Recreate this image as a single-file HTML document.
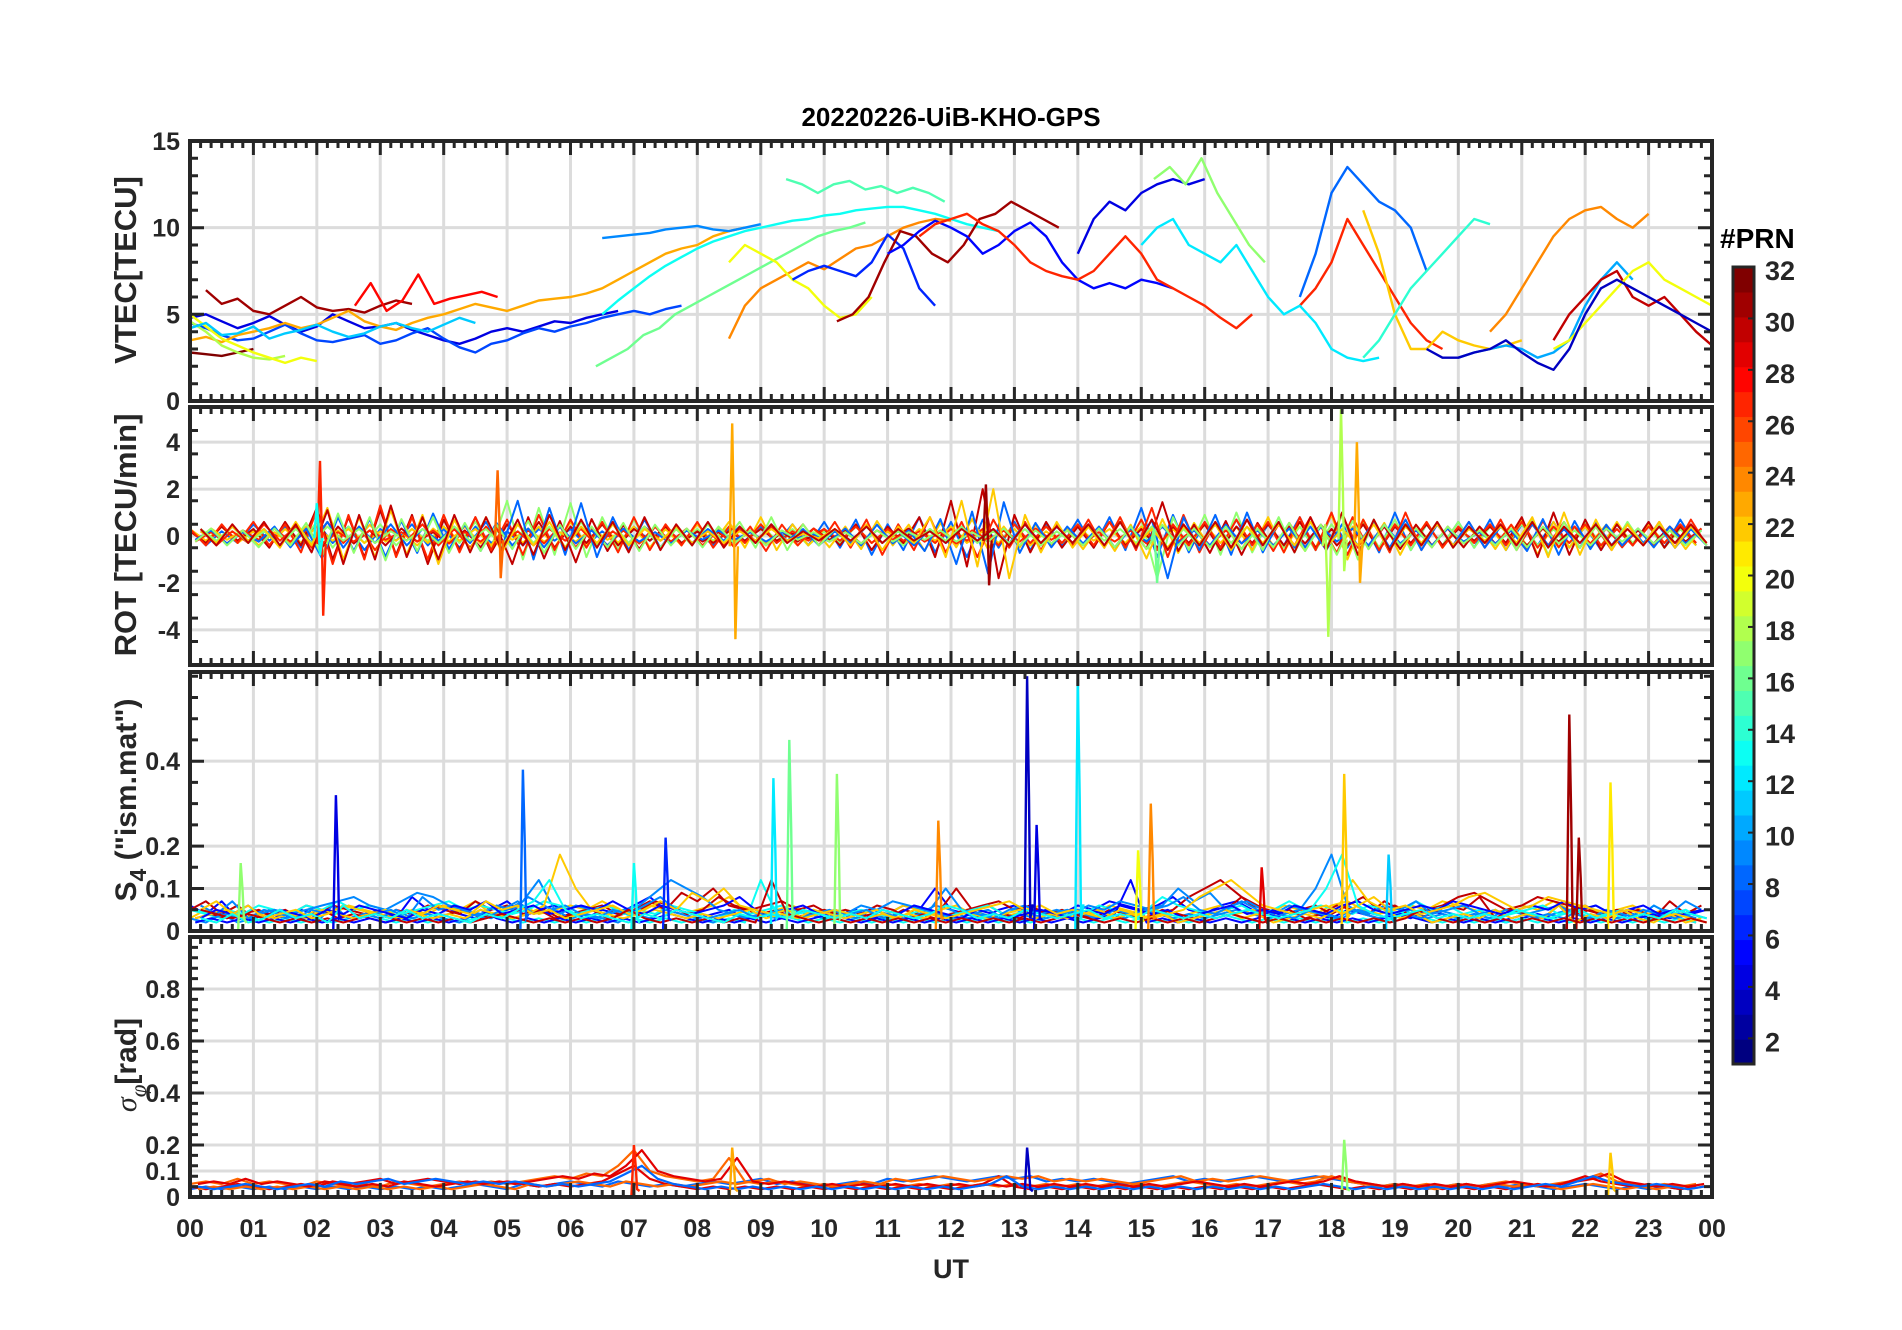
<!DOCTYPE html>
<html><head><meta charset="utf-8"><title>20220226-UiB-KHO-GPS</title>
<style>
html,body{margin:0;padding:0;background:#fff;}
svg{display:block;font-family:"Liberation Sans",Arial,sans-serif;}
</style></head>
<body>
<svg id="fig" width="1902" height="1330" viewBox="0 0 1902 1330" xmlns="http://www.w3.org/2000/svg">
<text x="951" y="126" text-anchor="middle" font-size="26" font-weight="bold" fill="#000">20220226-UiB-KHO-GPS</text>
<g id="layers"></g>
</svg>
<script>
// ---------- data ----------
const hourLabels = ["00","01","02","03","04","05","06","07","08","09","10","11","12","13","14","15","16","17","18","19","20","21","22","23","00"];
const vtecTicks = [0,5,10,15];
const rotTicks = [-4,-2,0,2,4];
const s4Ticks = [0,0.1,0.2,0.4];
const sigTicks = [0,0.1,0.2,0.4,0.6,0.8];
const cbarTicks = [2,4,6,8,10,12,14,16,18,20,22,24,26,28,30,32];

// VTEC series: prn, start hour, values every 0.25 h
const vtecPrn   = [31,32,28,4,7,23,18,20,9,16,13,15,24,20,6,31,5,27,4,17,8,27,22,24,10,30,20,3,14,12,11];
const vtecStart = [0.25,0,2.6,0,0,0,0,0,6.5,6.4,6.5,9.4,8.5,8.5,9.5,10.2,11,11.5,14,15.2,17.5,17.5,18.5,20.5,20,21.5,21.5,19.5,18.5,15,0];
const vtecVals = [
 [6.4,5.6,5.9,5.2,5.0,5.5,6.0,5.4,5.2,5.3,5.1,5.5,5.8,5.6],
 [2.8,2.7,2.6,2.8,3.0],
 [5.5,6.8,5.2,5.8,7.3,5.6,5.9,6.1,6.3,6.0],
 [4.8,5.0,4.6,4.2,4.5,4.9,4.4,4.0,4.3,5.0,4.6,4.2,4.3,4.5,4.1,3.8,3.5,3.3,3.6,4.0,4.2,4.0,4.3,4.6,4.5,4.8,5.0,5.2],
 [4.5,4.2,3.8,3.5,3.6,4.0,4.4,3.9,3.5,3.4,3.6,3.8,3.3,3.5,3.9,4.2,3.6,3.1,2.8,3.3,3.5,3.9,4.2,4.0,4.3,4.5,4.8,5.0,5.2,5.0,5.3,5.5],
 [3.5,3.7,3.4,3.8,4.0,4.2,4.5,4.2,4.4,4.8,5.2,4.6,4.3,4.1,4.5,4.8,5.0,5.3,5.6,5.4,5.2,5.5,5.8,5.9,6.0,6.2,6.5,7.0,7.5,8.0,8.5,8.8,9.0,9.5,9.8,10.0],
 [4.6,4.0,3.2,2.8,2.5,2.4,2.6],
 [5.0,4.3,3.6,3.2,2.8,2.5,2.2,2.5,2.3],
 [9.4,9.5,9.6,9.7,9.9,10.0,10.1,9.9,9.8,10.0,10.2],
 [2.0,2.5,3.0,3.8,4.2,5.0,5.5,6.0,6.5,7.0,7.5,8.0,8.5,9.0,9.5,9.8,10.0,10.3],
 [5.0,5.8,6.5,7.2,7.8,8.3,8.8,9.2,9.5,9.8,10.0,10.2,10.4,10.5,10.7,10.8,11.0,11.1,11.2,11.2,11.0,10.8,10.5,10.2,10.0,9.8],
 [12.8,12.5,12.0,12.5,12.7,12.2,12.4,12.0,12.3,12.0,11.5],
 [3.6,5.5,6.5,7.0,7.5,8.0,7.6,8.2,8.8,9.0,9.5,10.0,10.3,10.5,10.4],
 [8.0,9.0,8.5,8.0,7.0,6.5,5.5,4.8,5.0,6.0],
 [7.0,7.5,7.8,7.5,7.2,8.0,9.6,8.8,6.5,5.5],
 [4.6,5.0,6.0,8.0,9.8,9.5,8.5,8.0,9.0,10.5,10.8,11.5,11.0,10.5,10.0],
 [8.5,9.0,9.8,10.4,10.0,9.5,8.5,9.0,9.8,10.3,9.5,8.0,7.0,6.5,6.8,6.5,7.0,6.8,6.5],
 [9.5,10.2,10.5,10.8,10.2,9.8,9.0,8.0,7.5,7.2,7.0,7.5,8.5,9.5,8.5,7.0,6.5,6.0,5.5,4.8,4.2,5.0],
 [8.5,10.5,11.5,11.0,12.0,12.5,12.8,12.5,12.8],
 [12.8,13.5,12.5,14.0,12.0,10.5,9.0,8.0],
 [6.0,8.5,12.0,13.5,12.5,11.5,11.0,10.0,7.5],
 [5.5,6.5,8.0,10.5,9.0,7.5,6.0,4.5,3.5,3.0],
 [11.0,8.5,5.0,3.0,3.0,4.0,3.5,3.2,3.0,3.2,3.5],
 [4.0,5.0,6.5,8.0,9.5,10.5,11.0,11.2,10.5,10.0,10.8],
 [2.5,2.8,3.0,3.2,3.0,2.5,2.8,3.5,5.5,7.0,8.0,7.0],
 [3.5,5.0,6.0,7.0,7.5,6.0,5.5,6.0,5.0,4.0,3.2],
 [3.0,3.5,4.5,5.5,6.5,7.5,8.0,7.0,6.5,6.0,5.5],
 [3.0,2.5,2.5,2.8,3.0,3.5,2.8,2.2,1.8,3.0,5.0,6.5,7.0,6.5,6.0,5.5,5.0,4.5,4.0],
 [2.5,3.5,5.0,6.5,7.5,8.5,9.5,10.5,10.2],
 [9.0,10.0,10.5,9.0,8.5,8.0,9.0,7.5,6.0,5.0,5.5,4.5,3.0,2.5,2.3,2.5],
 [4.2,4.5,3.8,3.9,4.3,3.6,3.9,4.1,4.4,4.0,3.7,3.9,4.3,4.5,4.2,4.0,4.4,4.8,4.5]
];

// ROT noise series (every 0.25 h, 00-24)
const rotPrn = [8,17,22,30,27];
const rotVals = [
 [0.3,-0.4,0.2,-0.3,0.5,-0.2,0.4,-0.5,0.6,-0.3,0.4,-0.6,0.3,-0.2,0.5,-0.4,0.3,-0.5,0.4,-0.3,0.2,-0.4,0.3,-0.2,0.3,-0.4,0.2,-0.3,0.4,-0.2,0.3,-0.3,0.2,-0.4,0.3,-0.2,0.4,-0.3,0.5,-0.4,0.6,-0.5,0.7,-0.8,0.5,-0.6,0.8,-0.7,0.6,-0.9,0.7,-0.5,0.6,-0.6,0.5,-0.4,0.7,-0.5,0.8,-0.6,1.2,-0.9,0.9,-0.7,0.6,-0.5,0.7,-0.6,0.5,-0.4,0.8,-0.6,0.9,-0.5,0.6,-0.7,1.0,-0.6,0.5,-0.4,0.6,-0.5,0.7,-0.6,0.5,-0.4,0.6,-0.5,0.4,-0.6,0.5,-0.4,0.6,-0.5,0.7,-0.4],
 [0.2,-0.3,0.4,-0.2,0.3,-0.4,0.5,-0.3,0.6,-0.5,0.4,-0.3,0.5,-0.4,0.3,-0.2,0.4,-0.3,0.6,-0.5,1.5,-1.0,1.2,-0.8,1.4,-0.9,0.8,-0.6,0.7,-0.5,0.4,-0.3,0.3,-0.2,0.4,-0.3,0.5,-0.2,0.3,-0.4,0.2,-0.3,0.4,-0.3,0.2,-0.4,0.3,-0.3,0.4,-0.2,0.3,-0.3,0.5,-0.4,0.4,-0.3,0.5,-0.4,0.6,-0.5,0.7,-1.8,0.8,-0.6,0.9,-0.8,1.0,-0.7,0.6,-0.5,0.4,-0.6,0.5,-0.4,0.6,-0.5,0.7,-0.6,0.5,-0.4,0.6,-0.5,0.4,-0.3,0.5,-0.4,0.3,-0.5,0.6,-0.4,0.5,-0.3,0.4,-0.5,0.3,-0.4],
 [0.3,-0.2,0.4,-0.3,0.2,-0.4,0.3,-0.3,0.4,-0.2,0.3,-0.3,0.2,-0.2,0.3,-0.3,0.4,-0.2,0.3,-0.4,0.5,-0.3,0.4,-0.5,0.6,-0.4,0.5,-0.3,0.4,-0.5,0.3,-0.4,0.5,-0.3,0.6,-0.5,0.8,-0.6,0.5,-0.4,0.3,-0.2,0.4,-0.3,0.2,-0.3,0.3,-0.2,0.4,-0.3,0.2,-0.3,0.3,-0.4,0.2,-0.3,0.4,-0.2,0.3,-0.3,0.4,-0.5,0.3,-0.4,0.5,-0.3,0.4,-0.6,0.8,-0.7,0.6,-0.5,0.9,-1.0,0.7,-0.6,0.5,-0.4,0.6,-0.5,0.4,-0.3,0.5,-0.6,0.7,-0.8,0.6,-0.5,0.4,-0.5,0.6,-0.4,0.5,-0.3,0.4,-0.4],
 [0.2,-0.3,0.4,-0.2,0.3,-0.5,0.6,-0.4,1.2,-1.0,0.8,-0.9,1.1,-0.8,0.9,-1.2,0.7,-0.6,0.8,-0.7,0.5,-0.4,0.6,-0.5,0.4,-0.3,0.5,-0.4,0.3,-0.2,0.4,-0.3,0.2,-0.3,0.2,-0.2,0.3,-0.2,0.1,-0.1,0.3,-0.4,0.5,-0.6,0.4,-0.3,0.8,-0.9,1.5,-1.3,2.0,-1.8,0.9,-0.7,0.6,-0.5,0.4,-0.5,0.6,-0.4,0.3,-0.5,0.4,-0.3,0.5,-0.6,0.4,-0.3,0.5,-0.4,0.6,-0.5,0.3,-0.4,0.5,-0.6,0.4,-0.3,0.5,-0.4,0.3,-0.2,0.4,-0.3,0.8,-0.9,1.0,-0.8,0.7,-0.6,0.5,-0.4,0.6,-0.5,0.4,-0.3],
 [0.3,-0.4,0.5,-0.3,0.6,-0.4,0.5,-0.7,1.1,-1.2,0.9,-1.0,1.3,-0.9,0.8,-1.0,0.9,-0.7,0.8,-0.6,0.7,-0.8,0.9,-0.6,0.7,-0.5,0.6,-0.7,0.8,-0.6,0.5,-0.4,0.6,-0.5,0.4,-0.3,0.5,-0.3,0.2,-0.2,0.3,-0.2,0.4,-0.3,0.3,-0.2,0.2,-0.3,0.3,-0.2,0.3,-0.4,0.5,-0.3,0.4,-0.3,0.5,-0.4,0.6,-0.5,0.7,-0.6,0.5,-0.4,0.6,-0.5,0.7,-0.4,0.6,-0.7,0.8,-0.6,1.0,-0.8,0.7,-0.6,0.5,-0.4,0.6,-0.5,0.4,-0.3,0.5,-0.4,0.6,-0.5,0.4,-0.3,0.5,-0.4,0.3,-0.4,0.4,-0.3,0.5,-0.3]
];
// ROT spikes
const rotSpikeT   = [2.05,4.85,8.55,12.55,18.15,17.9,18.4,15.2,2.0];
const rotSpikeMax = [3.2,2.8,4.8,2.2,5.4,0.5,4.0,0.3,1.4];
const rotSpikeMin = [-3.4,-1.8,-4.4,-2.1,-1.5,-4.3,-2.0,-2.0,-0.8];
const rotSpikePrn = [27,25,23,31,18,18,23,16,13];

// S4 baseline series (every 0.25 h)
const s4Prn = [5,22,30,13,9];
const s4Vals = [
 [0.06,0.04,0.07,0.03,0.05,0.04,0.03,0.05,0.04,0.06,0.03,0.04,0.05,0.03,0.08,0.05,0.06,0.04,0.03,0.05,0.07,0.04,0.05,0.06,0.04,0.03,0.05,0.04,0.06,0.08,0.05,0.04,0.03,0.04,0.05,0.03,0.04,0.03,0.05,0.04,0.03,0.04,0.05,0.03,0.04,0.06,0.05,0.10,0.05,0.04,0.03,0.05,0.06,0.04,0.05,0.04,0.06,0.05,0.07,0.06,0.05,0.06,0.08,0.05,0.04,0.06,0.07,0.05,0.04,0.03,0.05,0.04,0.03,0.05,0.04,0.03,0.04,0.03,0.05,0.04,0.03,0.04,0.03,0.02,0.03,0.04,0.03,0.05,0.06,0.04,0.03,0.05,0.04,0.03,0.04,0.03],
 [0.03,0.05,0.04,0.06,0.03,0.05,0.04,0.03,0.05,0.04,0.06,0.05,0.04,0.03,0.05,0.04,0.06,0.05,0.07,0.04,0.05,0.06,0.04,0.05,0.06,0.05,0.07,0.05,0.04,0.06,0.05,0.04,0.05,0.06,0.08,0.05,0.04,0.05,0.06,0.04,0.05,0.04,0.03,0.05,0.04,0.06,0.05,0.04,0.03,0.05,0.04,0.03,0.04,0.05,0.04,0.03,0.05,0.04,0.06,0.05,0.04,0.05,0.03,0.04,0.05,0.06,0.04,0.05,0.04,0.06,0.05,0.04,0.06,0.07,0.05,0.04,0.05,0.06,0.05,0.07,0.06,0.05,0.04,0.05,0.06,0.05,0.07,0.05,0.06,0.04,0.05,0.06,0.04,0.05,0.04,0.05],
 [0.05,0.07,0.04,0.06,0.03,0.04,0.05,0.03,0.04,0.06,0.05,0.04,0.03,0.05,0.04,0.06,0.05,0.04,0.07,0.05,0.06,0.04,0.05,0.03,0.04,0.05,0.06,0.04,0.05,0.07,0.05,0.09,0.07,0.10,0.06,0.05,0.04,0.05,0.03,0.04,0.05,0.04,0.03,0.04,0.03,0.05,0.04,0.03,0.04,0.05,0.06,0.07,0.05,0.06,0.04,0.05,0.04,0.03,0.05,0.04,0.03,0.04,0.05,0.08,0.10,0.12,0.09,0.06,0.05,0.04,0.05,0.06,0.04,0.06,0.08,0.05,0.06,0.04,0.05,0.06,0.08,0.09,0.07,0.05,0.06,0.08,0.07,0.06,0.05,0.04,0.05,0.04,0.03,0.04,0.03,0.02],
 [0.05,0.04,0.03,0.04,0.03,0.02,0.03,0.02,0.03,0.02,0.03,0.04,0.03,0.02,0.03,0.02,0.03,0.02,0.03,0.04,0.03,0.02,0.03,0.02,0.03,0.02,0.03,0.05,0.03,0.02,0.03,0.02,0.03,0.02,0.03,0.02,0.12,0.04,0.03,0.02,0.03,0.02,0.03,0.02,0.03,0.02,0.03,0.02,0.03,0.02,0.03,0.02,0.03,0.02,0.03,0.04,0.03,0.02,0.03,0.02,0.03,0.02,0.03,0.02,0.03,0.04,0.03,0.02,0.03,0.02,0.03,0.02,0.03,0.02,0.03,0.02,0.03,0.05,0.03,0.02,0.03,0.02,0.03,0.02,0.03,0.02,0.03,0.02,0.03,0.02,0.03,0.02,0.03,0.02,0.03,0.02],
 [0.03,0.02,0.04,0.02,0.03,0.05,0.03,0.04,0.02,0.06,0.03,0.04,0.03,0.05,0.03,0.04,0.03,0.02,0.04,0.03,0.05,0.07,0.12,0.05,0.03,0.04,0.03,0.02,0.04,0.03,0.05,0.04,0.03,0.02,0.04,0.03,0.04,0.03,0.05,0.04,0.03,0.04,0.03,0.05,0.04,0.03,0.04,0.06,0.05,0.03,0.04,0.03,0.05,0.04,0.03,0.04,0.05,0.03,0.04,0.03,0.05,0.04,0.03,0.04,0.03,0.04,0.05,0.04,0.03,0.04,0.05,0.10,0.18,0.06,0.04,0.03,0.04,0.05,0.03,0.04,0.03,0.04,0.03,0.05,0.04,0.03,0.04,0.05,0.03,0.04,0.03,0.04,0.03,0.05,0.04,0.03]
];
// S4 spikes
const s4SpikeT   = [2.3,5.25,7.5,9.2,9.45,10.2,11.8,13.2,13.35,14.0,15.15,14.95,18.2,18.9,21.75,21.9,22.4,0.8,7.0,16.9];
const s4SpikeMax = [0.32,0.38,0.22,0.36,0.45,0.37,0.26,0.60,0.25,0.60,0.30,0.19,0.37,0.18,0.51,0.22,0.35,0.16,0.16,0.15];
const s4SpikePrn = [4,8,6,12,16,17,24,3,4,12,24,20,22,11,31,31,21,17,13,29];

// sigma-phi baseline series (every 0.25 h)
const sigPrn = [8,25,29];
const sigVals = [
 [0.03,0.04,0.03,0.04,0.03,0.04,0.03,0.04,0.03,0.04,0.03,0.04,0.03,0.04,0.03,0.04,0.03,0.04,0.05,0.04,0.03,0.05,0.04,0.05,0.06,0.05,0.04,0.06,0.05,0.04,0.05,0.04,0.05,0.06,0.05,0.06,0.07,0.05,0.06,0.05,0.04,0.05,0.06,0.05,0.07,0.06,0.07,0.08,0.07,0.06,0.07,0.08,0.07,0.08,0.06,0.07,0.06,0.07,0.06,0.05,0.06,0.07,0.08,0.06,0.07,0.06,0.07,0.08,0.07,0.06,0.07,0.08,0.07,0.06,0.05,0.04,0.05,0.04,0.03,0.04,0.05,0.04,0.05,0.04,0.05,0.04,0.03,0.04,0.05,0.04,0.03,0.04,0.03,0.04,0.03,0.04],
 [0.05,0.06,0.05,0.07,0.05,0.06,0.05,0.04,0.06,0.05,0.04,0.05,0.04,0.06,0.05,0.04,0.05,0.06,0.05,0.06,0.05,0.06,0.07,0.08,0.07,0.09,0.08,0.12,0.18,0.10,0.08,0.07,0.06,0.07,0.15,0.06,0.05,0.06,0.05,0.04,0.05,0.04,0.05,0.04,0.05,0.04,0.05,0.04,0.05,0.04,0.05,0.04,0.05,0.04,0.05,0.04,0.05,0.04,0.05,0.04,0.05,0.04,0.05,0.06,0.05,0.04,0.05,0.04,0.05,0.06,0.05,0.06,0.08,0.06,0.05,0.04,0.05,0.04,0.05,0.04,0.05,0.04,0.05,0.06,0.05,0.04,0.05,0.06,0.07,0.09,0.06,0.05,0.04,0.05,0.04,0.05],
 [0.04,0.03,0.04,0.05,0.04,0.03,0.04,0.05,0.04,0.06,0.05,0.06,0.07,0.05,0.06,0.07,0.06,0.05,0.06,0.05,0.06,0.05,0.04,0.05,0.04,0.05,0.06,0.09,0.12,0.07,0.05,0.04,0.03,0.04,0.03,0.04,0.03,0.04,0.03,0.04,0.03,0.04,0.03,0.04,0.03,0.04,0.03,0.04,0.03,0.04,0.05,0.08,0.04,0.03,0.04,0.03,0.04,0.03,0.04,0.03,0.04,0.03,0.04,0.03,0.04,0.03,0.04,0.03,0.04,0.03,0.04,0.05,0.04,0.03,0.04,0.03,0.04,0.03,0.04,0.03,0.04,0.03,0.04,0.03,0.04,0.05,0.04,0.06,0.08,0.06,0.05,0.04,0.05,0.04,0.03,0.04]
];
const sigSpikeT   = [7.0,8.55,13.2,18.2,22.4];
const sigSpikeMax = [0.20,0.19,0.19,0.22,0.17];
const sigSpikePrn = [27,23,3,17,22];

// ---------- rendering ----------
const NS = "http://www.w3.org/2000/svg";
const L = 190, R = 1712;
const panels = [
  {name:"vtec", top:141, bot:401, min:0, max:15, ticks:vtecTicks, minor:1},
  {name:"rot", top:407, bot:665, min:-5.5, max:5.5, ticks:rotTicks, minor:1},
  {name:"s4", top:672, bot:931, min:0, max:0.61, ticks:s4Ticks, minor:0.05},
  {name:"sigma", top:937, bot:1197, min:0, max:1.0, ticks:sigTicks, minor:0.04}
];
function xh(h){ return L + h*(R-L)/24; }
function yv(p,v){ return p.bot - (v-p.min)/(p.max-p.min)*(p.bot-p.top); }
function jet(prn){
  const t = (prn-1)/31;
  const r = Math.max(0,Math.min(1,1.5-Math.abs(4*t-3)));
  const g = Math.max(0,Math.min(1,1.5-Math.abs(4*t-2)));
  const b = Math.max(0,Math.min(1,1.5-Math.abs(4*t-1)));
  return "rgb("+Math.round(r*255)+","+Math.round(g*255)+","+Math.round(b*255)+")";
}
function mk(tag, attrs, parent){
  const e = document.createElementNS(NS, tag);
  for (const k in attrs) e.setAttribute(k, attrs[k]);
  parent.appendChild(e);
  return e;
}
const layers = document.getElementById("layers");

panels.forEach(function(p){
  const g = mk("g", {}, layers);
  
  
  const cp = mk("clipPath", {id:"clip-"+p.name}, g);
  mk("rect", {x:L, y:p.top, width:R-L, height:p.bot-p.top}, cp);
  for (let h=1; h<24; h++){
    const gl = mk("line", {x1:xh(h), x2:xh(h), y1:p.top, y2:p.bot, stroke:"#dcdcdc", "stroke-width":3}, g);
    
    
  }
  p.ticks.forEach(function(v){
    const gl = mk("line", {x1:L, x2:R, y1:yv(p,v), y2:yv(p,v), stroke:"#dcdcdc", "stroke-width":3}, g);
    
    
  });
  p.g = mk("g", {"clip-path":"url(#clip-"+p.name+")"}, g);
  p.frame = g;
});

function drawSeries(p, prn, start, step, vals, width, nm){
  let d = "";
  vals.forEach(function(v,i){ d += (i? "L":"M") + xh(start+i*step).toFixed(1) + "," + yv(p,v).toFixed(1); });
  const path = mk("path", {d:d, fill:"none", stroke:jet(prn), "stroke-width":width, "stroke-linejoin":"round"}, p.g);
  
  
}
function drawSpike(p, t, lo, hi, prn, nm){
  const d = "M"+xh(t-0.04).toFixed(1)+","+yv(p,lo*0.1).toFixed(1)+"L"+xh(t).toFixed(1)+","+yv(p,hi).toFixed(1)+
            "L"+xh(t+0.03).toFixed(1)+","+yv(p,(hi+lo)/2).toFixed(1)+"L"+xh(t+0.05).toFixed(1)+","+yv(p,lo).toFixed(1)+
            "L"+xh(t+0.09).toFixed(1)+","+yv(p,lo*0.1+(hi>0&&lo>=0?hi*0.1:0)).toFixed(1);
  const path = mk("path", {d:d, fill:"none", stroke:jet(prn), "stroke-width":2.4}, p.g);
  
  
}

// VTEC
vtecVals.forEach(function(v,i){ drawSeries(panels[0], vtecPrn[i], vtecStart[i], 0.25, v, 2.4, "vtec-line-prn"+vtecPrn[i]); });
// ROT (dense band: each record drawn at several phase offsets)
const rotOff = [0, 0.083, 0.167];
rotOff.forEach(function(o,k){
  rotVals.forEach(function(v,i){
    const prn = rotPrn[(i+k*2)%5];
    const vv = (k%2===1) ? v.map(function(x){return -x*0.8;}) : v;
    drawSeries(panels[1], prn, o, 0.25, vv, 2, "rot-line-prn"+prn);
  });
});
rotSpikeT.forEach(function(t,i){ drawSpike(panels[1], t, rotSpikeMin[i], rotSpikeMax[i], rotSpikePrn[i], "rot-spike"); });
// S4
const s4Off = [0, 0.083, 0.167];
s4Off.forEach(function(o,k){
  s4Vals.forEach(function(v,i){
    const prn = s4Prn[(i+k*2)%5];
    const vv = (k===1) ? v.slice().reverse() : v;
    drawSeries(panels[2], prn, o, 0.25, vv, 2, "s4-line-prn"+prn);
  });
});
s4SpikeT.forEach(function(t,i){ drawSpike(panels[2], t, 0.03, s4SpikeMax[i], s4SpikePrn[i], "s4-spike"); });
// sigma
[0,0.125].forEach(function(o,k){
  sigVals.forEach(function(v,i){ drawSeries(panels[3], sigPrn[(i+k)%3], o, 0.25, v, 2.2, "sigma-line-prn"+sigPrn[(i+k)%3]); });
});
sigSpikeT.forEach(function(t,i){ drawSpike(panels[3], t, 0.03, sigSpikeMax[i], sigSpikePrn[i], "sigma-spike"); });

// frames, ticks, labels
panels.forEach(function(p){
  const g = p.frame;
  const fr = mk("rect", {x:L, y:p.top, width:R-L, height:p.bot-p.top, fill:"none", stroke:"#262626", "stroke-width":4}, g);
  
  
  let d = "";
  for (let m=0; m<=144; m++){
    const x = xh(m/6), len = (m%6===0)? 14 : 7;
    d += "M"+x.toFixed(1)+","+p.top+"v"+len+"M"+x.toFixed(1)+","+p.bot+"v-"+len;
  }
  const n = Math.round((p.max-p.min)/p.minor);
  for (let k=0; k<=n; k++){
    const v = p.min + k*p.minor;
    const maj = p.ticks.some(function(t){return Math.abs(t-v)<1e-6;});
    const y = yv(p,v);
    d += "M"+L+","+y.toFixed(1)+"h"+(maj?14:8)+"M"+R+","+y.toFixed(1)+"h-"+(maj?14:8);
  }
  const tk = mk("path", {d:d, stroke:"#262626", "stroke-width":3, fill:"none"}, g);
  
  
  p.ticks.forEach(function(v){
    const t = mk("text", {x:L-10, y:yv(p,v)+9, "text-anchor":"end", "font-size":25, "font-weight":"bold", fill:"#262626"}, g);
    t.textContent = String(v);
    
    
  });
});
hourLabels.forEach(function(lab,i){
  const t = mk("text", {x:xh(i), y:1237, "text-anchor":"middle", "font-size":25, "font-weight":"bold", fill:"#262626"}, layers);
  t.textContent = lab;
  
  
});
const ut = mk("text", {x:951, y:1278, "text-anchor":"middle", "font-size":27, "font-weight":"bold", fill:"#262626"}, layers);
ut.textContent = "UT";



function ylab(txt, cy, nm, fs){
  const t = mk("text", {x:0, y:0, transform:"translate(136,"+cy+") rotate(-90)", "text-anchor":"middle", "font-size":fs, "font-weight":"bold", fill:"#262626"}, layers);
  t.textContent = txt;
  
  
  return t;
}
ylab("VTEC[TECU]", 270, "vtec-axis-title", 31);
ylab("ROT [TECU/min]", 535, "rot-axis-title", 31);
const s4t = ylab("", 800, "s4-axis-title", 30);
s4t.innerHTML = '<tspan>S</tspan><tspan dy="10" font-size="23">4</tspan><tspan dy="-10"> ("ism.mat")</tspan>';
const sgt = mk("text", {x:0, y:0, transform:"translate(136,1065) rotate(-90)", "text-anchor":"middle", "font-size":30, fill:"#262626"}, layers);
sgt.innerHTML = '<tspan font-family="Liberation Serif, serif" font-style="italic">σ</tspan><tspan dy="10" font-size="23" font-family="Liberation Serif, serif" font-style="italic">φ</tspan><tspan dy="-10" font-weight="bold">[rad]</tspan>';



// colorbar
const cb = mk("g", {}, layers);


const cbT = 267, cbB = 1064, cbL = 1733, cbR = 1754;
for (let k=1; k<=32; k++){
  const y0 = cbB - (k-1)*(cbB-cbT)/32, y1 = cbB - k*(cbB-cbT)/32;
  const r = mk("rect", {x:cbL, y:y1, width:cbR-cbL, height:(y0-y1)+0.6, fill:jet(k)}, cb);
  
  
}
const cbf = mk("rect", {x:cbL, y:cbT, width:cbR-cbL, height:cbB-cbT, fill:"none", stroke:"#262626", "stroke-width":3}, cb);


cbarTicks.forEach(function(v){
  const y = cbB - (v-1)/31*(cbB-cbT);
  mk("line", {x1:cbR-6, x2:cbR, y1:y, y2:y, stroke:"#262626", "stroke-width":2}, cb);
  const t = mk("text", {x:1765, y:y+13, "font-size":27, "font-weight":"bold", fill:"#262626"}, cb);
  t.textContent = String(v);
  
  
});
const cbt = mk("text", {x:1720, y:248, "font-size":28, "font-weight":"bold", fill:"#000"}, cb);
cbt.textContent = "#PRN";


</script>
</body></html>
